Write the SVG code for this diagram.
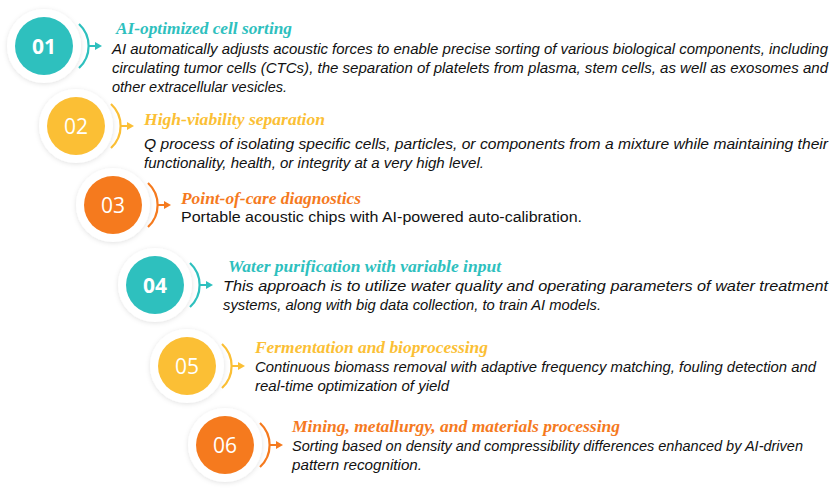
<svg xmlns="http://www.w3.org/2000/svg" width="838" height="500" viewBox="0 0 838 500">
<defs>
<filter id="sh" x="-30%" y="-30%" width="160%" height="160%"><feDropShadow dx="0" dy="1" stdDeviation="2.5" flood-color="#000" flood-opacity="0.12"/></filter>
</defs>
<style>
.halo{fill:#fff;filter:url(#sh)}
.num{font-family:"Open Sans","Liberation Sans",sans-serif;font-size:21px;fill:#fff;text-anchor:middle}
.t{font-family:"Liberation Serif",serif;font-weight:bold;font-style:italic;font-size:16px}
.b{font-family:"Liberation Sans",sans-serif;font-style:italic;font-size:14px;fill:#111}
.n{font-family:"Liberation Sans",sans-serif;font-size:14px;fill:#111}
.teal{fill:#2EC0BE}.yel{fill:#FBBF35}.org{fill:#F57A1E}
.lt{stroke:#2EC0BE}.ly{stroke:#FBBF35}.lo{stroke:#F57A1E}
.arc{fill:none;stroke-width:2.2}
</style>
<rect width="838" height="500" fill="#fff"/>
<g id="connectors">
<g class="lt"><path class="arc" d="M79,24 A30,30 0 0 1 79,68"/><line x1="89" y1="46" x2="96" y2="46" stroke-width="2"/></g>
<polygon points="95,42 102,46 95,50" class="teal"/>
<g class="ly"><path class="arc" d="M111,104 A30,30 0 0 1 111,148"/><line x1="121" y1="126" x2="128" y2="126" stroke-width="2"/></g>
<polygon points="127,122 134,126 127,130" class="yel"/>
<g class="lo"><path class="arc" d="M148,183 A30,30 0 0 1 148,227"/><line x1="158" y1="205" x2="165" y2="205" stroke-width="2"/></g>
<polygon points="164,201 171,205 164,209" class="org"/>
<g class="lt"><path class="arc" d="M190,263 A30,30 0 0 1 190,307"/><line x1="200" y1="285" x2="207" y2="285" stroke-width="2"/></g>
<polygon points="206,281 213,285 206,289" class="teal"/>
<g class="ly"><path class="arc" d="M222,344 A30,30 0 0 1 222,388"/><line x1="232" y1="366" x2="239" y2="366" stroke-width="2"/></g>
<polygon points="238,362 245,366 238,370" class="yel"/>
<g class="lo"><path class="arc" d="M260,423 A30,30 0 0 1 260,467"/><line x1="270" y1="445" x2="277" y2="445" stroke-width="2"/></g>
<polygon points="276,441 283,445 276,449" class="org"/>
</g>
<g id="n01">
<circle cx="44" cy="46" r="37" class="halo"/><circle cx="44" cy="46" r="29" class="teal"/>
<text x="44" y="53.5" class="num" font-weight="bold">01</text>
<text x="116" y="34" class="t teal" textLength="176" lengthAdjust="spacingAndGlyphs">AI-optimized cell sorting</text>
<text x="112" y="54" class="b" textLength="716" lengthAdjust="spacingAndGlyphs">AI automatically adjusts acoustic forces to enable precise sorting of various biological components, including</text>
<text x="112" y="73" class="b" textLength="716" lengthAdjust="spacingAndGlyphs">circulating tumor cells (CTCs), the separation of platelets from plasma, stem cells, as well as exosomes and</text>
<text x="112" y="92" class="b" textLength="175" lengthAdjust="spacingAndGlyphs">other extracellular vesicles.</text>
</g>
<g id="n02">
<circle cx="76" cy="126" r="37" class="halo"/><circle cx="76" cy="126" r="29" class="yel"/>
<text x="76" y="133.5" class="num">02</text>
<text x="144" y="125" class="t yel" textLength="181" lengthAdjust="spacingAndGlyphs">High-viability separation</text>
<text x="144" y="149" class="b" textLength="684" lengthAdjust="spacingAndGlyphs">Q process of isolating specific cells, particles, or components from a mixture while maintaining their</text>
<text x="144" y="168" class="b" textLength="340" lengthAdjust="spacingAndGlyphs">functionality, health, or integrity at a very high level.</text>
</g>
<g id="n03">
<circle cx="113" cy="205" r="37" class="halo"/><circle cx="113" cy="205" r="29" class="org"/>
<text x="113" y="212.5" class="num">03</text>
<text x="181" y="204" class="t org" textLength="180" lengthAdjust="spacingAndGlyphs">Point-of-care diagnostics</text>
<text x="181" y="222" class="n" textLength="401" lengthAdjust="spacingAndGlyphs">Portable acoustic chips with AI-powered auto-calibration.</text>
</g>
<g id="n04">
<circle cx="155" cy="285" r="37" class="halo"/><circle cx="155" cy="285" r="29" class="teal"/>
<text x="155" y="292.5" class="num" font-weight="bold">04</text>
<text x="228" y="272" class="t teal" textLength="273" lengthAdjust="spacingAndGlyphs">Water purification with variable input</text>
<text x="223" y="291" class="b" textLength="605" lengthAdjust="spacingAndGlyphs">This approach is to utilize water quality and operating parameters of water treatment</text>
<text x="223" y="310" class="b" textLength="378" lengthAdjust="spacingAndGlyphs">systems, along with big data collection, to train AI models.</text>
</g>
<g id="n05">
<circle cx="187" cy="366" r="37" class="halo"/><circle cx="187" cy="366" r="29" class="yel"/>
<text x="187" y="373.5" class="num">05</text>
<text x="255" y="353" class="t yel" textLength="233" lengthAdjust="spacingAndGlyphs">Fermentation and bioprocessing</text>
<text x="255" y="372" class="b" textLength="561" lengthAdjust="spacingAndGlyphs">Continuous biomass removal with adaptive frequency matching, fouling detection and</text>
<text x="255" y="391" class="b" textLength="194" lengthAdjust="spacingAndGlyphs">real-time optimization of yield</text>
</g>
<g id="n06">
<circle cx="225" cy="445" r="37" class="halo"/><circle cx="225" cy="445" r="29" class="org"/>
<text x="225" y="452.5" class="num">06</text>
<text x="292" y="432" class="t org" textLength="328" lengthAdjust="spacingAndGlyphs">Mining, metallurgy, and materials processing</text>
<text x="292" y="451" class="b" textLength="511" lengthAdjust="spacingAndGlyphs">Sorting based on density and compressibility differences enhanced by AI-driven</text>
<text x="292" y="470" class="b" textLength="130" lengthAdjust="spacingAndGlyphs">pattern recognition.</text>
</g>
</svg>
